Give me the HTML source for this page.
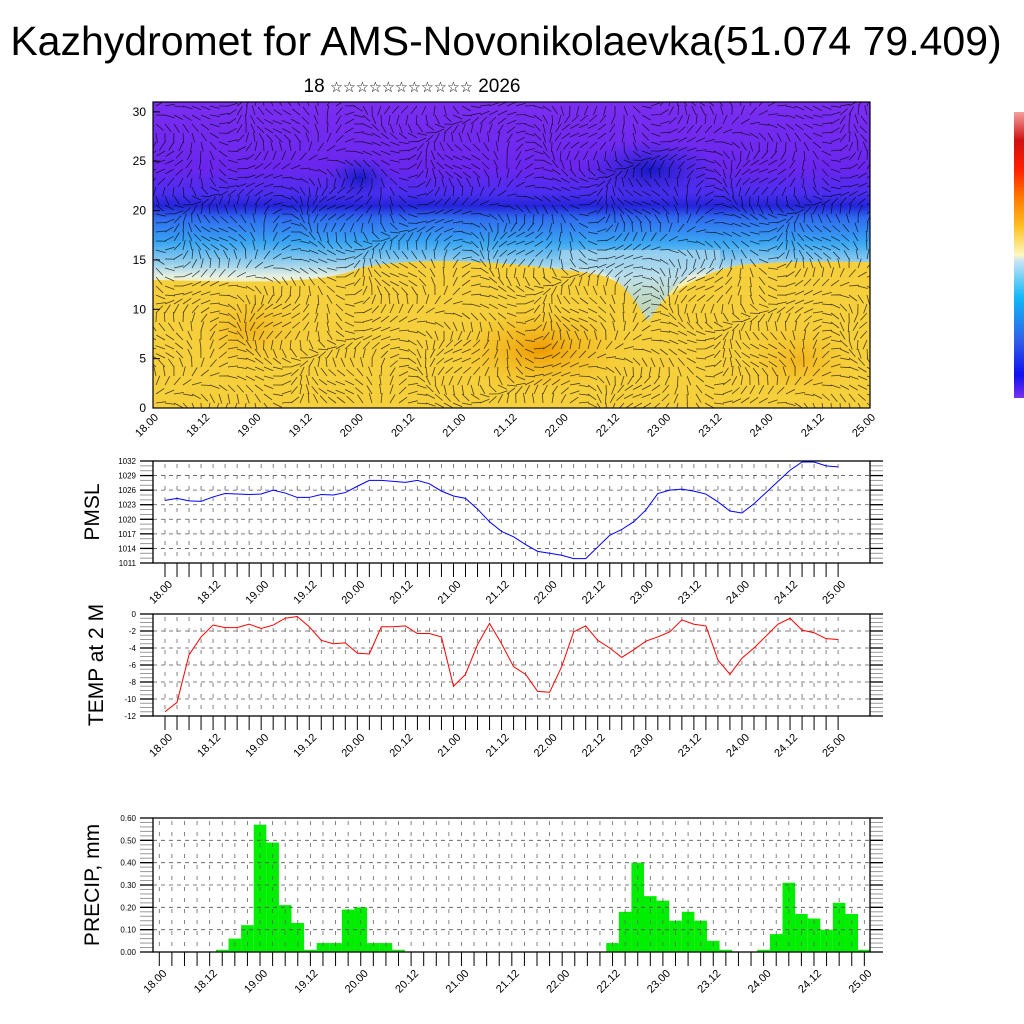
<!DOCTYPE html>
<html><head><meta charset="utf-8"><style>
html,body{margin:0;padding:0;background:#fff;}
svg{display:block;font-family:"Liberation Sans",sans-serif;}
</style></head><body>
<svg id="s" width="1024" height="1024" viewBox="0 0 1024 1024" xmlns="http://www.w3.org/2000/svg">
<defs>
<linearGradient id="vg" x1="0" y1="0" x2="0" y2="1">
<stop offset="0" stop-color="#7a2ef0"/><stop offset="0.22" stop-color="#6a26ee"/>
<stop offset="0.3" stop-color="#4a2ef0"/><stop offset="0.34" stop-color="#2424d8"/>
<stop offset="0.38" stop-color="#2f6cf0"/><stop offset="0.46" stop-color="#3aa6f2"/>
<stop offset="0.53" stop-color="#9cd2ec"/><stop offset="0.57" stop-color="#e8f0e0"/>
<stop offset="0.6" stop-color="#faeea0"/><stop offset="0.66" stop-color="#f7d850"/>
<stop offset="1" stop-color="#f4c228"/>
</linearGradient>
<linearGradient id="cb" x1="0" y1="0" x2="0" y2="1">
<stop offset="0" stop-color="#f4a0a0"/><stop offset="0.1" stop-color="#d01010"/>
<stop offset="0.2" stop-color="#ff2000"/><stop offset="0.3" stop-color="#ff7a00"/>
<stop offset="0.4" stop-color="#ffc020"/><stop offset="0.5" stop-color="#fff8c0"/>
<stop offset="0.52" stop-color="#c8e4f4"/><stop offset="0.65" stop-color="#10b8f8"/>
<stop offset="0.8" stop-color="#3060e8"/><stop offset="0.92" stop-color="#1010f0"/>
<stop offset="1" stop-color="#7a30f0"/>
</linearGradient>
<radialGradient id="org"><stop offset="0" stop-color="#ee9a00"/><stop offset="1" stop-color="#f4c228" stop-opacity="0"/></radialGradient>
<radialGradient id="bls"><stop offset="0" stop-color="#1818c8"/><stop offset="1" stop-color="#3030e0" stop-opacity="0"/></radialGradient>
<clipPath id="tc"><rect x="153" y="102" width="717" height="306"/></clipPath>
</defs>
<text x="506" y="55" font-size="41" text-anchor="middle">Kazhydromet for AMS-Novonikolaevka(51.074 79.409)</text>
<text x="412" y="92" font-size="19" text-anchor="middle">18 <tspan font-size="14.5">☆☆☆☆☆☆☆☆☆☆☆</tspan> 2026</text>

<g clip-path="url(#tc)">
<rect x="153" y="102" width="717" height="306" fill="url(#vg)"/>
<path d="M153 280 C250 282 320 285 360 268 C420 255 520 262 600 275 C625 282 640 300 648 322 C660 300 690 275 740 265 C800 260 840 262 870 262 L870 408 L153 408 Z" fill="#f6cf3c"/>
<path d="M560 262 C600 262 625 280 648 322 C668 290 690 268 720 262 L720 250 L560 250 Z" fill="#a8d6ee" opacity="0.7"/>
<ellipse cx="540" cy="350" rx="90" ry="45" fill="url(#org)"/>
<ellipse cx="250" cy="330" rx="60" ry="40" fill="url(#org)" opacity="0.5"/>
<ellipse cx="800" cy="360" rx="60" ry="40" fill="url(#org)" opacity="0.5"/>
<ellipse cx="360" cy="178" rx="35" ry="22" fill="url(#bls)"/>
<ellipse cx="650" cy="170" rx="70" ry="30" fill="url(#bls)"/>
<g id="barbs" stroke="#000" stroke-width="0.8" opacity="0.7"></g>
</g>
<rect x="153" y="102" width="717" height="306" fill="none" stroke="#000" stroke-width="1.2"/>
<g id="topax" font-size="12"></g>
<rect x="1014" y="112" width="10" height="286" fill="url(#cb)"/>

<g id="pmsl"></g>
<g id="temp"></g>
<g id="precip"></g>
<text transform="translate(99,512) rotate(-90)" font-size="21" text-anchor="middle">PMSL</text>
<text transform="translate(103,665) rotate(-90)" font-size="21" text-anchor="middle">TEMP at 2 M</text>
<text transform="translate(99,885) rotate(-90)" font-size="21" text-anchor="middle">PRECIP, mm</text>
</svg>
<script>
const dayLabels=["18.00","18.12","19.00","19.12","20.00","20.12","21.00","21.12","22.00","22.12","23.00","23.12","24.00","24.12","25.00"];
const heightTicks=[0,5,10,15,20,25,30];
const pmslTicks=[1011,1014,1017,1020,1023,1026,1029,1032];
const tempTicks=[0,-2,-4,-6,-8,-10,-12];
const precipTicks=[0,0.1,0.2,0.3,0.4,0.5,0.6];
const pmslValues=[1023.9,1024.3,1023.8,1023.7,1024.6,1025.3,1025.2,1025.1,1025.2,1026,1025.4,1024.5,1024.5,1025.1,1025,1025.5,1026.8,1028,1028,1027.8,1027.6,1028,1027.3,1025.8,1024.8,1024.3,1022.1,1019.5,1017.5,1016.4,1014.8,1013.4,1013,1012.6,1011.9,1011.9,1014.3,1016.7,1017.9,1019.5,1021.9,1025.3,1026,1026.2,1025.8,1025.2,1023.6,1021.7,1021.3,1023.2,1025.5,1027.8,1030.1,1031.8,1031.8,1031,1030.8];
const tempValues=[-11.5,-10.4,-4.8,-2.7,-1.3,-1.6,-1.6,-1.2,-1.7,-1.3,-0.5,-0.3,-1.5,-3.1,-3.5,-3.4,-4.6,-4.7,-1.5,-1.5,-1.4,-2.3,-2.3,-2.7,-8.5,-7.1,-3.6,-1.1,-3.5,-6.2,-7.1,-9.1,-9.2,-6.2,-2.1,-1.4,-3.1,-4,-5.1,-4.2,-3.2,-2.7,-2.1,-0.7,-1.2,-1.4,-5.4,-7.1,-5.2,-4,-2.6,-1.2,-0.5,-1.9,-2.2,-2.9,-3];
const precipValues=[0,0,0,0,0,0.01,0.06,0.12,0.57,0.49,0.21,0.13,0.01,0.04,0.04,0.19,0.20,0.04,0.04,0.01,0,0,0,0,0,0,0,0,0,0,0,0,0,0,0,0,0.04,0.18,0.40,0.25,0.23,0.14,0.18,0.14,0.05,0.01,0,0,0.01,0.08,0.31,0.17,0.15,0.10,0.22,0.17,0.01];

const NS="http://www.w3.org/2000/svg";
function mk(p,tag,at){const e=document.createElementNS(NS,tag);for(const k in at)e.setAttribute(k,at[k]);p.appendChild(e);return e;}

// barbs texture
const bg=document.getElementById('barbs');
let d="";
for(let y=106;y<408;y+=9){for(let x=156;x<870;x+=9){
 const a=Math.sin(x*0.031+y*0.017)*1.6+Math.cos(y*0.05-x*0.011)*1.2;
 const L=10;d+=`M${x} ${y}l${(L*Math.cos(a)).toFixed(1)} ${(L*Math.sin(a)).toFixed(1)}`;}}
mk(bg,'path',{d:d,fill:'none'});

// top axis
const ta=document.getElementById('topax');
const hy=v=>408-v*(306/31);
heightTicks.forEach(v=>{
 const t=mk(ta,'text',{x:146,y:hy(v)+4,'text-anchor':'end'});t.textContent=v;
 
 
 mk(ta,'line',{x1:153,x2:160,y1:hy(v),y2:hy(v),stroke:'#000'});
});
dayLabels.forEach((s,k)=>{
 const x=153+k*(717/14);
 const t=mk(ta,'text',{transform:`translate(${x+6},${418}) rotate(-45)`,'text-anchor':'end','font-size':11});t.textContent=s;
 
 
});

function panel(gid,top,bot,x0,dx,ticks,lo,hi,fmt,minor,extraTickBefore){
 const g=document.getElementById(gid);
 const ys=v=>bot-(v-lo)/(hi-lo)*(bot-top);
 const xs=i=>x0+i*dx;
 ticks.forEach(v=>{if(v!==lo&&v!==hi)mk(g,'line',{x1:153,x2:870,y1:ys(v),y2:ys(v),stroke:'#555','stroke-width':0.8,'stroke-dasharray':'4 4'});});
 for(let i=0;i<57;i++)mk(g,'line',{x1:xs(i),x2:xs(i),y1:top+3,y2:bot,stroke:'#666','stroke-width':0.8,'stroke-dasharray':'4 7'});
 for(let v=lo;v<=hi+1e-9;v+=minor){const y=ys(v);
  mk(g,'line',{x1:140,x2:153,y1:y,y2:y,stroke:'#999','stroke-width':1});
  mk(g,'line',{x1:870,x2:883,y1:y,y2:y,stroke:'#999','stroke-width':1});}
 ticks.forEach(v=>{const y=ys(v);
  mk(g,'line',{x1:140,x2:153,y1:y,y2:y,stroke:'#000','stroke-width':1.3});
  mk(g,'line',{x1:870,x2:883,y1:y,y2:y,stroke:'#000','stroke-width':1.3});
  const t=mk(g,'text',{x:136,y:y+3,'text-anchor':'end','font-size':8});t.textContent=fmt(v);
  
  });
 const start=extraTickBefore?-1:0;
 for(let i=start;i<57;i++)mk(g,'line',{x1:xs(i),x2:xs(i),y1:bot,y2:bot+14,stroke:'#000','stroke-width':1});
 dayLabels.forEach((s,k)=>{const x=xs(k*4);
  const t=mk(g,'text',{transform:`translate(${x+8},${bot+22}) rotate(-45)`,'text-anchor':'end','font-size':11});t.textContent=s;
  
  });
 const fr=mk(g,'rect',{x:153,y:top,width:717,height:bot-top,fill:'none',stroke:'#000','stroke-width':1.3});
 
 
 return {g,xs,ys};
}

let p=panel('pmsl',461,563,165,12.02,pmslTicks,1011,1032,v=>v,1,false);
let pl=mk(p.g,'polyline',{points:pmslValues.map((v,i)=>p.xs(i)+','+p.ys(v)).join(' '),fill:'none',stroke:'#0000ff','stroke-width':1});



let t=panel('temp',614,716,165,12.02,tempTicks,-12,0,v=>v,0.5,false);
let tl=mk(t.g,'polyline',{points:tempValues.map((v,i)=>t.xs(i)+','+t.ys(v)).join(' '),fill:'none',stroke:'#ff0000','stroke-width':1});



let q=panel('precip',818,952,159.3,12.59,precipTicks,0,0.6,v=>v.toFixed(2),0.02,false);
const bw=12.59;
precipValues.forEach((v,i)=>{if(v<=0)return;
 const b=mk(q.g,'rect',{x:q.xs(i)-bw/2,y:q.ys(v),width:bw,height:952-q.ys(v),fill:'#00ee00'});
 
 
 q.g.insertBefore(b,q.g.firstChild);
});
</script>
</body></html>
